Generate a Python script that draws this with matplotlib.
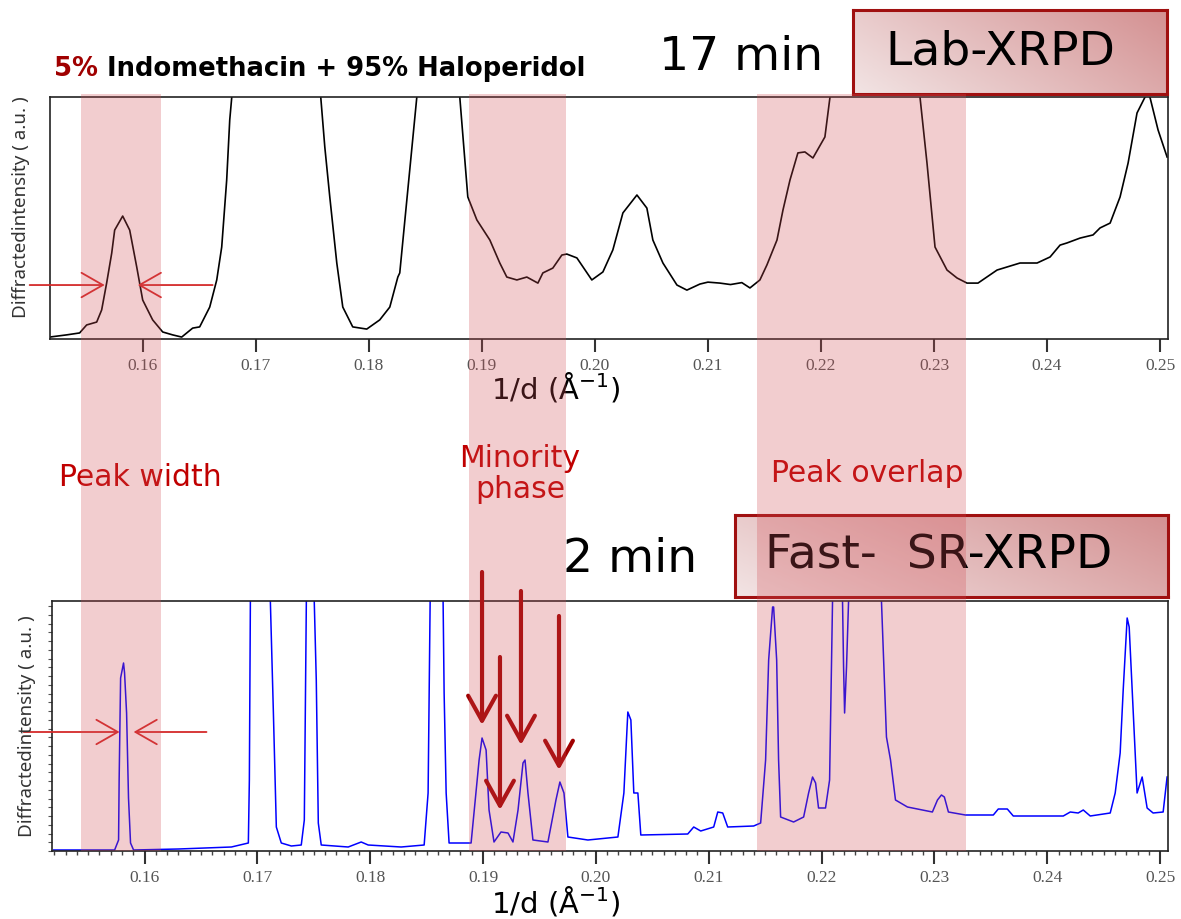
import numpy as np
import matplotlib
matplotlib.use("Agg")
import matplotlib.pyplot as plt
from matplotlib.patches import Rectangle
from matplotlib.ticker import MultipleLocator, FormatStrFormatter
import matplotlib.transforms as mtrans

# ---------------- data ----------------
# Lab-XRPD (17 min) pattern, 1/d (1/A) vs intensity (a.u., axis clipped at 100)
lab_x = [0.15177, 0.15327, 0.15442, 0.15504, 0.15593, 0.15637, 0.15681, 0.15726, 0.15752,
         0.15823, 0.15885, 0.15947, 0.16000, 0.16088, 0.16177, 0.16265, 0.16345, 0.16442,
         0.16504, 0.16593, 0.16655, 0.16699, 0.16743, 0.16770, 0.16788, 0.17200, 0.17575,
         0.17611, 0.17655, 0.17717, 0.17770, 0.17858, 0.17982, 0.18097, 0.18186, 0.18257,
         0.18274, 0.18425, 0.18620, 0.18805, 0.18876, 0.18956, 0.19071, 0.19159, 0.19221,
         0.19310, 0.19398, 0.19496, 0.19540, 0.19628, 0.19708, 0.19752, 0.19841, 0.19973,
         0.20071, 0.20159, 0.20248, 0.20372, 0.20460, 0.20513, 0.20602, 0.20726, 0.20814,
         0.20929, 0.21000, 0.21106, 0.21200, 0.21300, 0.21372, 0.21460, 0.21522, 0.21611,
         0.21664, 0.21726, 0.21796, 0.21858, 0.21929, 0.22035, 0.22080, 0.22500, 0.22876,
         0.22938, 0.23009, 0.23115, 0.23204, 0.23292, 0.23389, 0.23558, 0.23761, 0.23912,
         0.24027, 0.24115, 0.24177, 0.24292, 0.24407, 0.24469, 0.24558, 0.24646, 0.24717,
         0.24796, 0.24867, 0.24894, 0.24912, 0.24982, 0.25062]
lab_y = [0.8, 1.7, 2.5, 5.8, 7.0, 12.0, 23.1, 35.5, 45.0,
         50.8, 45.0, 29.8, 16.1, 7.9, 2.9, 1.7, 0.8, 4.5,
         5.0, 13.2, 24.4, 38.0, 65.7, 90.5, 100.0, 170.0, 100.0,
         79.3, 58.7, 31.4, 13.2, 5.0, 4.1, 7.9, 13.2, 25.6,
         27.3, 100.0, 170.0, 100.0, 58.7, 49.2, 40.9, 31.4, 25.6,
         24.4, 25.6, 23.1, 27.3, 29.3, 34.7, 35.1, 33.5, 24.4,
         27.7, 36.8, 52.1, 59.5, 54.1, 40.9, 31.4, 22.3, 20.2,
         22.7, 23.5, 23.1, 22.5, 23.3, 21.1, 24.4, 30.6, 40.9,
         53.3, 65.7, 76.9, 77.3, 74.8, 83.5, 100.0, 170.0, 100.0,
         72.7, 38.0, 28.5, 25.2, 23.1, 23.1, 28.5, 31.4, 31.4,
         33.9, 38.8, 39.7, 41.7, 43.0, 45.9, 47.9, 58.7, 72.7,
         93.4, 100.0, 101.0, 99.6, 86.4, 75.2]

# Fast SR-XRPD (2 min) pattern
sr_x = [0.15195, 0.15735, 0.15770, 0.15775, 0.15788, 0.15814, 0.15823, 0.15841, 0.15858,
        0.15876, 0.15903, 0.16301, 0.16770, 0.16920, 0.16929, 0.16938, 0.17050, 0.17115,
        0.17142, 0.17168, 0.17212, 0.17301, 0.17389, 0.17416, 0.17434, 0.17480, 0.17504,
        0.17522, 0.17540, 0.17566, 0.17805, 0.17920, 0.17982, 0.18274, 0.18478, 0.18513,
        0.18522, 0.18531, 0.18600, 0.18646, 0.18655, 0.18673, 0.18699, 0.18894, 0.18965,
        0.18991, 0.19027, 0.19053, 0.19097, 0.19159, 0.19221, 0.19265, 0.19310, 0.19354,
        0.19372, 0.19398, 0.19442, 0.19575, 0.19646, 0.19681, 0.19717, 0.19752, 0.19929,
        0.20195, 0.20248, 0.20283, 0.20310, 0.20336, 0.20372, 0.20398, 0.20814, 0.20867,
        0.20929, 0.21044, 0.21080, 0.21124, 0.21168, 0.21398, 0.21460, 0.21504, 0.21531,
        0.21566, 0.21575, 0.21602, 0.21619, 0.21637, 0.21752, 0.21841, 0.21885, 0.21920,
        0.21947, 0.21973, 0.22035, 0.22071, 0.22097, 0.22150, 0.22186, 0.22195, 0.22204,
        0.22221, 0.22239, 0.22350, 0.22531, 0.22575, 0.22611, 0.22655, 0.22761, 0.22982,
        0.23027, 0.23062, 0.23088, 0.23124, 0.23274, 0.23522, 0.23566, 0.23646, 0.23699,
        0.24142, 0.24204, 0.24274, 0.24319, 0.24381, 0.24558, 0.24602, 0.24646, 0.24673,
        0.24708, 0.24726, 0.24761, 0.24796, 0.24841, 0.24885, 0.24938, 0.25027, 0.25062]
sr_y = [0.4, 0.4, 4.4, 28.4, 69.2, 75.2, 71.2, 55.2, 21.2,
        3.2, 0.4, 0.8, 1.6, 3.2, 28.4, 100.0, 200.0, 100.0,
        55.2, 9.6, 3.2, 2.0, 2.4, 12.4, 100.0, 200.0, 100.0,
        68.4, 11.2, 2.4, 1.6, 3.6, 2.4, 1.6, 2.4, 23.2,
        63.2, 99.6, 200.0, 99.6, 63.2, 23.2, 3.2, 3.2, 36.4,
        45.2, 40.4, 16.4, 3.6, 7.6, 7.2, 3.6, 16.4, 35.2,
        36.4, 23.2, 4.4, 3.6, 20.4, 27.6, 23.2, 5.6, 4.4,
        5.6, 23.2, 55.6, 52.4, 23.2, 23.2, 6.4, 6.8, 9.6,
        8.0, 9.6, 15.6, 15.2, 9.6, 10.0, 11.2, 36.4, 76.4,
        97.6, 97.6, 76.4, 36.4, 13.6, 11.6, 13.6, 23.2, 29.6,
        27.2, 17.2, 17.2, 28.4, 99.6, 200.0, 99.6, 73.6, 55.2,
        73.6, 99.6, 200.0, 99.6, 45.6, 36.4, 20.4, 17.6, 15.6,
        20.4, 22.4, 21.6, 15.6, 14.4, 14.4, 16.8, 16.8, 14.0,
        14.0, 15.6, 15.2, 16.4, 14.0, 15.2, 23.2, 39.2, 64.4,
        93.2, 89.6, 56.4, 23.2, 29.6, 17.2, 15.2, 15.6, 29.6]

tick_vals = [0.16, 0.17, 0.18, 0.19, 0.20, 0.21, 0.22, 0.23, 0.24, 0.25]
bands = [(0.15451, 0.16159), (0.18885, 0.19743), (0.21434, 0.23283)]
# arrows marking minority-phase peaks: (x, start y, tip y) in SR axes units
minority_peaks = [(0.18991, 111.6, 50.4), (0.19150, 77.6, 16.4),
                  (0.19336, 104.0, 42.4), (0.19673, 94.0, 32.4)]

# ---------------- figure ----------------
W, H = 1181, 919
fig = plt.figure(figsize=(W / 100, H / 100), dpi=100)
fig.patch.set_facecolor("white")

def fx(px):
    return px / W

def fy(py):
    return 1 - py / H

XL = (0.1518, 0.2507)

ax1 = fig.add_axes([fx(50), fy(339), fx(1168) - fx(50), fy(97) - fy(339)])
ax2 = fig.add_axes([fx(52), fy(851), fx(1168) - fx(52), fy(601) - fy(851)])

ax1.plot(lab_x, lab_y, color="black", lw=1.2)
ax2.plot(sr_x, sr_y, color="#0000ff", lw=1.1)

for ax in (ax1, ax2):
    ax.set_xlim(*XL)
    ax.set_ylim(0, 100)
    ax.set_xticks(tick_vals)
    ax.xaxis.set_major_formatter(FormatStrFormatter("%.2f"))
    for lab in ax.get_xticklabels():
        lab.set_fontfamily("Liberation Serif")
        lab.set_fontsize(12.5)
        lab.set_color("#555555")
    ax.tick_params(axis="x", which="major", direction="out", length=9, width=1.5,
                   color="#333333", pad=5)
    for s in ax.spines.values():
        s.set_linewidth(1.2)
        s.set_color("#222222")

ax1.set_yticks([])
ax2.xaxis.set_minor_locator(MultipleLocator(0.001))
ax2.tick_params(axis="x", which="minor", direction="out", length=3, width=1, color="#444444")
ax2.yaxis.set_minor_locator(MultipleLocator(3.5))
ax2.set_yticks([])
ax2.tick_params(axis="y", which="minor", direction="out", length=3, width=0.8, color="#555555")

# y labels
fig.text(fx(21), fy(207), "Diffractedintensity ( a.u. )", rotation=90, ha="center", va="center",
         family="Noto Sans", fontsize=13.5, color="#333333")
fig.text(fx(27), fy(726), "Diffractedintensity ( a.u. )", rotation=90, ha="center", va="center",
         family="Noto Sans", fontsize=13.5, color="#333333")

# x labels
xl = "1/d (Å$^{-1}$)"
fig.text(fx(556), fy(387), xl, ha="center", va="center", fontsize=21, color="black")
fig.text(fx(556), fy(901), xl, ha="center", va="center", fontsize=21, color="black")

# title
t1 = fig.text(fx(54), fy(69), "5%", ha="left", va="center", fontsize=18.6, fontweight="bold",
              color="#a00000")
ax1.annotate(" Indomethacin + 95% Haloperidol", xy=(1, 0.5), xycoords=t1, ha="left",
             va="center", fontsize=18.6, fontweight="bold", color="black", annotation_clip=False)

# time labels
fig.text(fx(741), fy(58), "17 min", ha="center", va="center", fontsize=34, color="black")
fig.text(fx(630), fy(560), "2 min", ha="center", va="center", fontsize=34, color="black")

# gradient boxes
def grad_box(x0, y0, x1, y1, text):
    bx = fig.add_axes([fx(x0), fy(y1), fx(x1) - fx(x0), fy(y0) - fy(y1)])
    n = 64
    gx, gy = np.meshgrid(np.linspace(0, 1, n), np.linspace(0, 1, n))
    t = np.clip(0.7 * gx + 0.3 * (1 - gy), 0, 1)  # row 0 = top
    c0 = np.array([242, 228, 228]) / 255.0
    c1 = np.array([212, 145, 146]) / 255.0
    img = c0[None, None, :] * (1 - t[..., None]) + c1[None, None, :] * t[..., None]
    bx.imshow(img, extent=(0, 1, 0, 1), aspect="auto", origin="upper")
    bx.set_xlim(0, 1)
    bx.set_ylim(0, 1)
    bx.set_xticks([])
    bx.set_yticks([])
    for s in bx.spines.values():
        s.set_color("#a01010")
        s.set_linewidth(2.2)
    bx.text(0.47, 0.5, text, ha="center", va="center", fontsize=34, color="black",
            transform=bx.transAxes)
    return bx

grad_box(853, 10, 1167, 94, "Lab-XRPD")
grad_box(735, 515, 1168, 597, "Fast-  SR-XRPD")

# annotations in red
red = "#c00000"
fig.text(fx(140), fy(478), "Peak width", ha="center", va="center", fontsize=21.5, color=red)
fig.text(fx(520), fy(474), "Minority\nphase", ha="center", va="center", fontsize=21.5,
         color=red, linespacing=1.05)
fig.text(fx(867), fy(474), "Peak overlap", ha="center", va="center", fontsize=21.5, color=red)

# width arrows
harrow = dict(arrowstyle="->,head_length=0.7,head_width=0.4", color="#d42a2a", lw=1.3,
              mutation_scale=22, shrinkA=0, shrinkB=0)
ax1.annotate("", xy=(0.15664, 22.3), xytext=(0.1500, 22.3), arrowprops=harrow,
             annotation_clip=False)
ax1.annotate("", xy=(0.15956, 22.3), xytext=(0.16619, 22.3), arrowprops=harrow,
             annotation_clip=False)
ax2.annotate("", xy=(0.15779, 47.6), xytext=(0.14929, 47.6), arrowprops=harrow,
             annotation_clip=False)
ax2.annotate("", xy=(0.15903, 47.6), xytext=(0.16549, 47.6), arrowprops=harrow,
             annotation_clip=False)

# minority-phase arrows
varrow = dict(arrowstyle="->,head_length=0.9,head_width=0.5", color="#a00000", lw=3,
              mutation_scale=20, shrinkA=0, shrinkB=0)
for x, ys, yt in minority_peaks:
    ax2.annotate("", xy=(x, yt), xytext=(x, ys), arrowprops=varrow, annotation_clip=False)

# shaded bands spanning both panels (drawn on top, translucent)
btr = mtrans.blended_transform_factory(ax1.transData, fig.transFigure)
for a, b in bands:
    r = Rectangle((a, fy(851)), b - a, fy(94) - fy(851), transform=btr,
                  facecolor=(0.82, 0.30, 0.33), alpha=0.28, edgecolor="none", zorder=20)
    fig.add_artist(r)

fig.savefig("out.png", dpi=100)
